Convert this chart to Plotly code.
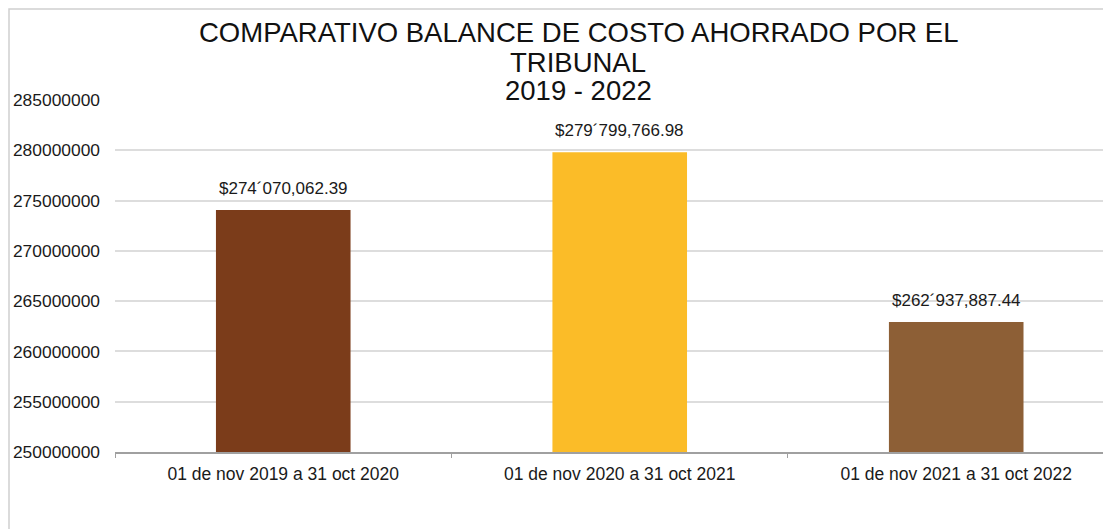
import plotly.graph_objects as go

categories = ["01 de nov 2019 a 31 oct 2020",
              "01 de nov 2020 a 31 oct 2021",
              "01 de nov 2021 a 31 oct 2022"]
values = [274070062.39, 279799766.98, 262937887.44]
value_labels = ["$274´070,062.39", "$279´799,766.98", "$262´937,887.44"]
bar_colors = ["#7B3C1A", "#FBBC28", "#8D5F36"]
title_lines = ["COMPARATIVO BALANCE DE COSTO AHORRADO POR EL", "TRIBUNAL", "2019 - 2022"]
y_ticks = [250000000, 255000000, 260000000, 265000000, 270000000, 275000000, 280000000, 285000000]

# page has an 8px body margin; the figure is sized to fill the rest of the window
OFF = 8
W, H = 1111 - OFF, 529 - OFF
ML, MR, MT, MB = 115 - OFF, 0, 100 - OFF, 77
PH = H - MT - MB
PW = W - ML - MR

FONT = "Liberation Sans, Arial, sans-serif"

fig = go.Figure()
fig.add_trace(go.Bar(
    x=categories, y=values, width=0.4,
    marker=dict(color=bar_colors, line=dict(width=0)),
    showlegend=False, hoverinfo="x+y",
))

# data labels
for c, v, t in zip(categories, values, value_labels):
    fig.add_annotation(x=c, y=v, text=t, showarrow=False, xref="x", yref="y",
                       yanchor="bottom", yshift=10,
                       font=dict(family=FONT, size=17, color="#1a1a1a"))

# title lines (screen pixel centres)
title_px = [32, 62, 91]
for line, py in zip(title_lines, title_px):
    fig.add_annotation(x=(578 - 115) / PW, y=(H - MB - (py - OFF)) / PH,
                       xref="paper", yref="paper", text=line, showarrow=False,
                       xanchor="center", yanchor="middle",
                       font=dict(family=FONT, size=27.5, color="#111111"))

# chart frame
fig.add_shape(type="rect", xref="paper", yref="paper",
              x0=(1 - ML) / PW, x1=1.05,
              y0=-0.5, y1=(H - MB - 1) / PH,
              line=dict(color="#D0D0D0", width=1.5), fillcolor="rgba(0,0,0,0)", layer="below")

fig.update_layout(
    width=W, height=H,
    margin=dict(l=ML, r=MR, t=MT, b=MB),
    paper_bgcolor="white", plot_bgcolor="white",
    font=dict(family=FONT, color="#1a1a1a"),
)
fig.update_xaxes(
    type="category", range=[-0.5, 2.46],
    showgrid=False, showline=True, linecolor="#A0A0A0", linewidth=1.5,
    ticks="outside", tickson="boundaries", ticklen=4, tickcolor="#A0A0A0",
    tickfont=dict(family=FONT, size=17.5, color="#1a1a1a"),
    ticklabelstandoff=5,
)
fig.update_yaxes(
    range=[250000000, 285000000], tickvals=y_ticks,
    ticktext=[str(v) for v in y_ticks],
    showgrid=True, gridcolor="#DDDDDD", gridwidth=1.5,
    showline=False, zeroline=False, ticks="",
    tickfont=dict(family=FONT, size=17.4, color="#1a1a1a"),
    ticklabelstandoff=14,
)

fig.write_html("out.html")
